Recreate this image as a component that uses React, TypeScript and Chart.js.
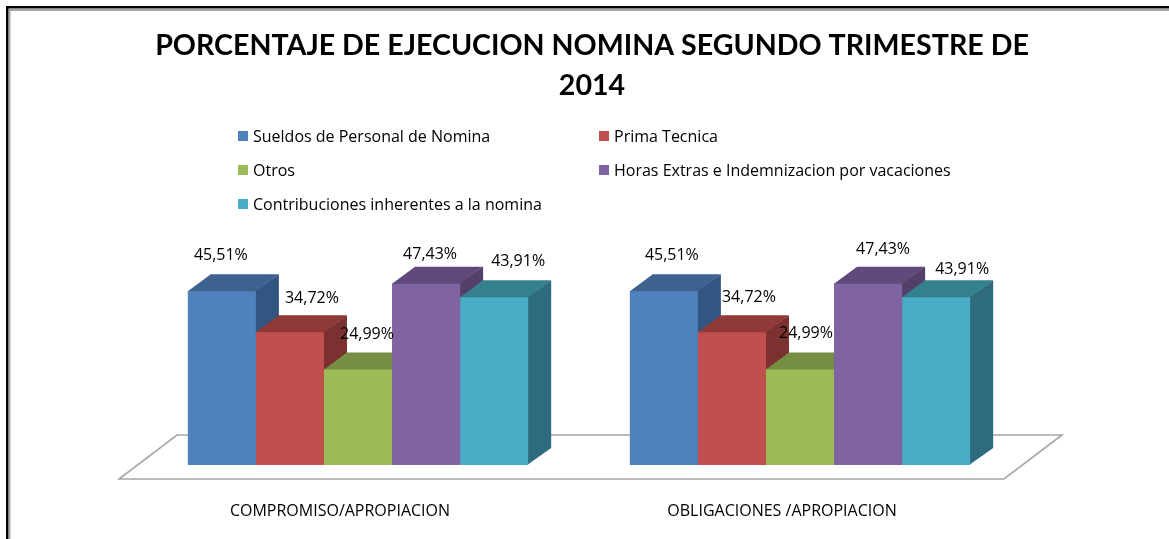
import React, { useEffect, useRef } from "react";
import { Chart, registerables } from "chart.js";

Chart.register(...registerables);

const categories = ["COMPROMISO/APROPIACION", "OBLIGACIONES /APROPIACION"];
const seriesNames = [
  "Sueldos de Personal de Nomina",
  "Prima Tecnica",
  "Otros",
  "Horas Extras e Indemnizacion por vacaciones",
  "Contribuciones inherentes a la nomina",
];
const sueldos = [45.51, 45.51];
const prima = [34.72, 34.72];
const otros = [24.99, 24.99];
const horas = [47.43, 47.43];
const contribuciones = [43.91, 43.91];
const frontColors = ["#4f81bd", "#c0504d", "#9bbb59", "#8064a2", "#4bacc6"];
const topColors = ["#3d628f", "#8f3a38", "#768e43", "#604a7b", "#35808f"];
const sideColors = ["#335581", "#7b312f", "#66793a", "#534069", "#2f6b7e"];

const DEPTH_X = 23;
const DEPTH_Y = 17;
const LABEL_FONT = "16px 'Open Sans'";
const LEGEND_FONT = "16px 'Open Sans'";
// data-label nudges from bar centre (dx) and above bar top (dy), per category, per series
const labelNudge = [
  [[-1, 36], [22, 34], [9, 35], [4, 29], [24, 36]],
  [[8, 36], [17, 35], [6, 36], [15, 34], [26, 28]],
];
const legendSlots = [
  [238, 136], [599, 136], [238, 170], [599, 170], [238, 204],
];

const poly = (ctx: CanvasRenderingContext2D, pts: number[][], fill: string) => {
  ctx.beginPath();
  pts.forEach((p, i) => (i ? ctx.lineTo(p[0], p[1]) : ctx.moveTo(p[0], p[1])));
  ctx.closePath();
  ctx.fillStyle = fill;
  ctx.fill();
};

const scene = {
  id: "scene",
  beforeDraw(chart: any) {
    const { ctx, chartArea: a, width, height } = chart;
    ctx.save();
    ctx.fillStyle = "#ffffff";
    ctx.fillRect(0, 0, width, height);
    // frame: top and left edges only, the others run off the picture
    ctx.fillStyle = "#000000";
    ctx.fillRect(6, 6, width - 6, 2.5);
    ctx.fillRect(6, 6, 2.5, height - 6);
    ctx.fillStyle = "#a6a6a6";
    ctx.fillRect(9, 9, width - 9, 2);
    ctx.fillRect(9, 9, 1.5, height - 9);
    // floor
    const y0 = a.bottom;
    ctx.strokeStyle = "#a6a6a6";
    ctx.lineWidth = 1.6;
    ctx.beginPath();
    ctx.moveTo(a.left - 18, y0 + 14);
    ctx.lineTo(a.right - 17, y0 + 14);
    ctx.lineTo(a.right + 41, y0 - 30);
    ctx.lineTo(a.left + 40, y0 - 30);
    ctx.closePath();
    ctx.stroke();
    // legend in two columns
    ctx.font = LEGEND_FONT;
    ctx.textBaseline = "middle";
    ctx.textAlign = "left";
    chart.data.datasets.forEach((d: any, i: number) => {
      const [x, y] = legendSlots[i];
      ctx.fillStyle = d.backgroundColor;
      ctx.fillRect(x, y - 5, 10, 10);
      ctx.fillStyle = "#000000";
      ctx.fillText(d.label, x + 15, y + 1);
    });
    ctx.restore();
  },
  beforeDatasetsDraw(chart: any) {
    const { ctx } = chart;
    ctx.save();
    chart.data.labels.forEach((_: string, c: number) => {
      chart.data.datasets.forEach((_d: any, s: number) => {
        const bar = chart.getDatasetMeta(s).data[c];
        const half = bar.width / 2;
        const l = bar.x - half;
        const r = bar.x + half;
        const t = bar.y;
        const b = bar.base;
        poly(ctx, [[r - 1, t], [r + DEPTH_X, t - DEPTH_Y], [r + DEPTH_X, b - DEPTH_Y], [r - 1, b]], sideColors[s]);
        // the lower edge runs 1px under the front face so no light seam shows
        poly(ctx, [[l, t + 1], [l, t], [l + DEPTH_X, t - DEPTH_Y], [r + DEPTH_X, t - DEPTH_Y], [r, t], [r, t + 1]], topColors[s]);
      });
    });
    ctx.restore();
  },
  afterDatasetsDraw(chart: any) {
    const { ctx } = chart;
    ctx.save();
    ctx.font = LABEL_FONT;
    ctx.fillStyle = "#000000";
    ctx.textAlign = "center";
    ctx.textBaseline = "middle";
    chart.data.labels.forEach((_: string, c: number) => {
      chart.data.datasets.forEach((d: any, s: number) => {
        const bar = chart.getDatasetMeta(s).data[c];
        const [dx, dy] = labelNudge[c][s];
        const text = d.data[c].toFixed(2).replace(".", ",") + "%";
        ctx.fillText(text, bar.x + dx, bar.y - dy);
      });
    });
    ctx.restore();
  },
};

export default function App() {
  const ref = useRef<HTMLCanvasElement>(null);
  useEffect(() => {
    const values = [sueldos, prima, otros, horas, contribuciones];
    const chart = new Chart(ref.current!, {
      type: "bar",
      data: {
        labels: categories,
        datasets: seriesNames.map((label, i) => ({
          label,
          data: values[i],
          backgroundColor: frontColors[i],
          borderWidth: 0,
          barPercentage: 1,
          categoryPercentage: 0.77,
        })),
      },
      plugins: [scene],
      options: {
        responsive: false,
        animation: false,
        layout: { padding: { left: 15, right: 0, top: 0, bottom: 0 } },
        plugins: {
          legend: { display: false },
          tooltip: { enabled: false },
          title: {
            display: true,
            text: ["PORCENTAJE DE EJECUCION NOMINA SEGUNDO TRIMESTRE DE", "2014"],
            color: "#000000",
            font: { family: "Lato", size: 28.6, weight: "bold", lineHeight: 40 / 28.6 },
            padding: { top: 26, bottom: 168 },
          },
        },
        scales: {
          x: {
            grid: { display: false },
            border: { display: false },
            ticks: {
              color: "#000000",
              font: { family: "Open Sans", size: 16 },
              padding: 29,
              labelOffset: -18,
              maxRotation: 0,
              autoSkip: false,
            },
            afterFit: (s: any) => { s.height = 74; },
          },
          y: {
            min: 0,
            max: 50,
            grid: { display: false },
            border: { display: false },
            ticks: { display: false },
            afterFit: (s: any) => { s.width = 122; },
          },
          yRight: {
            position: "right",
            grid: { display: false },
            border: { display: false },
            ticks: { display: false },
            afterFit: (s: any) => { s.width = 148; },
          },
        },
      },
    } as any);
    return () => chart.destroy();
  }, []);
  return (
    <canvas
      ref={ref}
      width={1169}
      height={539}
      style={{ position: "fixed", left: 0, top: 0, display: "block" }}
    />
  );
}
